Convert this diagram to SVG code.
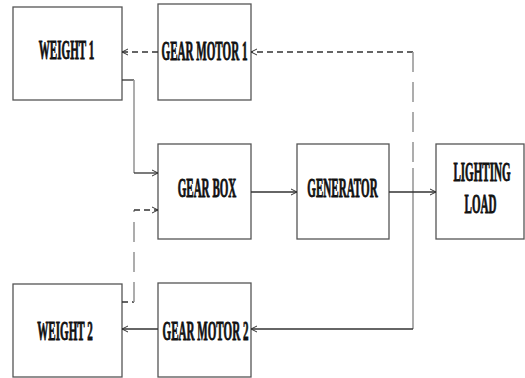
<svg xmlns="http://www.w3.org/2000/svg" width="525" height="378" viewBox="0 0 525 378">
<style>
.box{fill:#fff;stroke:#555;stroke-width:1.3}
.lbl{font-family:"Liberation Serif","Times New Roman",serif;font-weight:bold;font-size:27px;fill:#111;stroke:#111;stroke-width:0.9;text-anchor:middle}
.s{fill:none;stroke:#333;stroke-width:1.3}
.g{fill:none;stroke:#999;stroke-width:1.6}
.d{fill:none;stroke:#333;stroke-width:1.3;stroke-dasharray:6,4}
.gd{fill:none;stroke:#999;stroke-width:1.6;stroke-dasharray:20,10}
</style>
<defs>
<marker id="ah" markerWidth="8" markerHeight="8" refX="7" refY="4" orient="auto" markerUnits="userSpaceOnUse">
<path d="M1,1 L7,4 L1,7" fill="none" stroke="#333" stroke-width="1"/>
</marker>
</defs>
<rect width="525" height="378" fill="#fff"/>
<g id="weight1"><rect class="box" x="13" y="7" width="109" height="93"/><text class="lbl" transform="translate(66.5,59) scale(0.41,1)">WEIGHT 1</text></g>
<g id="gearmotor1"><rect class="box" x="158" y="4" width="93" height="96"/><text class="lbl" transform="translate(204.5,60) scale(0.41,1)">GEAR MOTOR 1</text></g>
<g id="gearbox"><rect class="box" x="158" y="144" width="93" height="95"/><text class="lbl" transform="translate(207,197) scale(0.41,1)">GEAR BOX</text></g>
<g id="generator"><rect class="box" x="297" y="144" width="92" height="95"/><text class="lbl" transform="translate(342.5,197) scale(0.41,1)">GENERATOR</text></g>
<g id="lightingload"><rect class="box" x="436" y="144" width="88" height="95"/><text class="lbl" transform="translate(482,181) scale(0.41,1)">LIGHTING</text><text class="lbl" transform="translate(480.5,213) scale(0.41,1)">LOAD</text></g>
<g id="weight2"><rect class="box" x="13" y="284" width="109" height="93"/><text class="lbl" transform="translate(65,340) scale(0.41,1)">WEIGHT 2</text></g>
<g id="gearmotor2"><rect class="box" x="158" y="283" width="93" height="94"/><text class="lbl" transform="translate(205.5,340) scale(0.41,1)">GEAR MOTOR 2</text></g>
<g id="connectors">
<path class="d" d="M158,52 H122" marker-end="url(#ah)"/>
<path class="d" d="M413,52 H251" marker-end="url(#ah)"/>
<path class="gd" d="M413,52 V168"/>
<path class="g" d="M413,168 V329"/>
<path class="s" d="M413,329 H251" marker-end="url(#ah)"/>
<path class="s" d="M122,80 H134"/>
<path class="g" d="M134,80 V173"/>
<path class="s" d="M134,173 H158" marker-end="url(#ah)"/>
<path class="d" d="M122,302 H134"/>
<path class="gd" d="M134,302 V210"/>
<path class="d" d="M134,210 H158" marker-end="url(#ah)"/>
<path class="s" d="M251,192 H297" marker-end="url(#ah)"/>
<path class="s" d="M389,192 H436" marker-end="url(#ah)"/>
<path class="s" d="M158,329 H122" marker-end="url(#ah)"/>
</g>
</svg>
